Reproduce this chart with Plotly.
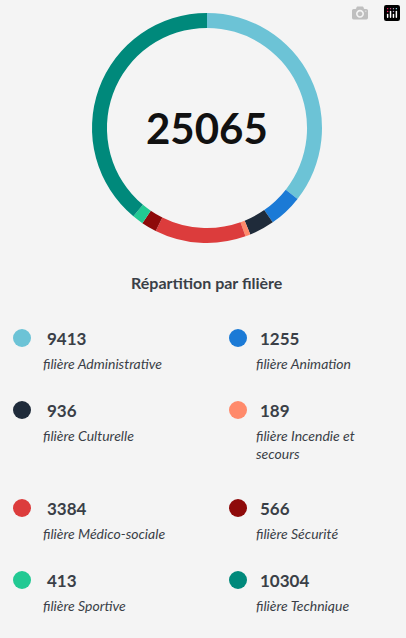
import plotly.graph_objects as go

W, H = 406, 638
values = [9413, 1255, 936, 189, 3384, 566, 413, 10304]
labels = ["filière Administrative", "filière Animation", "filière Culturelle",
          "filière Incendie et<br>secours", "filière Médico-sociale", "filière Sécurité",
          "filière Sportive", "filière Technique"]
colors = ["#6cc3d6", "#1b7ad6", "#1f2b3a", "#ff8a6b", "#dc3c3c", "#8e0a0a", "#22c993", "#00897b"]
total = "25065"
title = "Répartition par filière"

def px(x): return x / W
def py(y): return 1 - y / H

fig = go.Figure(go.Pie(
    values=values, labels=labels, marker=dict(colors=colors, line=dict(width=0)),
    hole=0.87, sort=False, direction="clockwise", rotation=0,
    textinfo="none", hoverinfo="label+value", showlegend=False,
    domain=dict(x=[px(92), px(322)], y=[py(243), py(13)])))

ann = [dict(text=f"<b>{total}</b>", x=px(207), y=py(128), xref="paper", yref="paper",
            yanchor="middle", showarrow=False, font=dict(size=42, color="#111", family="Lato")),
       dict(text=f"<b>{title}</b>", x=px(207), y=py(283), xref="paper", yref="paper",
            yanchor="middle", showarrow=False, font=dict(size=16, color="#3a3f47", family="Lato"))]
shapes = []
rows = [338, 410, 508, 580]
for i, (v, lab, c) in enumerate(zip(values, labels, colors)):
    col, row = i % 2, i // 2
    cx = 22 if col == 0 else 238
    tx = 45 if col == 0 else 258
    y = rows[row]
    shapes.append(dict(type="circle", xref="paper", yref="paper",
                       x0=px(cx - 9), x1=px(cx + 9), y0=py(y + 9), y1=py(y - 9),
                       fillcolor=c, line=dict(width=0)))
    ann.append(dict(text=f"<b>{v}</b>", x=px(tx), y=py(y), xref="paper", yref="paper",
                    xanchor="left", yanchor="middle", showarrow=False,
                    font=dict(size=17, color="#3a3f47", family="Lato")))
    ann.append(dict(text=f"<i>{lab}</i>", x=px(tx - 4), y=py(y + 15), xref="paper", yref="paper",
                    xanchor="left", yanchor="top", align="left", showarrow=False,
                    font=dict(size=14, color="#3a3f47", family="Lato")))

fig.update_layout(width=W, height=H, margin=dict(l=0, r=0, t=0, b=0),
                  paper_bgcolor="#f4f4f4", plot_bgcolor="#f4f4f4",
                  annotations=ann, shapes=shapes)
fig.write_html("out.html", post_script="document.body.style.margin='0';")
